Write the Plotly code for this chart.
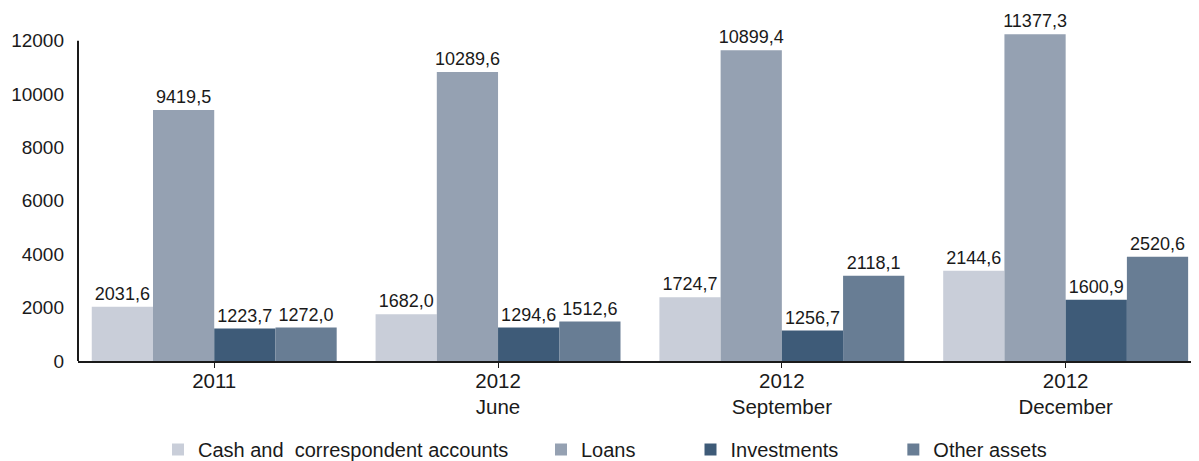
import plotly.graph_objects as go

# categories on the x axis (year / month)
periods = ["2011", "2012<br>June", "2012<br>September", "2012<br>December"]
# non-breaking spaces widen the gaps between legend entries as in the original
series = ["Cash and\u00a0 correspondent accounts" + "\u00a0" * 5,
          "Loans" + "\u00a0" * 9,
          "Investments" + "\u00a0" * 9,
          "Other assets"]

# bar heights as drawn in the picture
cash = [2037, 1750, 2386, 3383]
loans = [9402, 10822, 11645, 12243]
investments = [1215, 1252, 1140, 2299]
other = [1252, 1477, 3196, 3907]

# value labels printed above the bars
cash_lbl = ["2031,6", "1682,0", "1724,7", "2144,6"]
loans_lbl = ["9419,5", "10289,6", "10899,4", "11377,3"]
investments_lbl = ["1223,7", "1294,6", "1256,7", "1600,9"]
other_lbl = ["1272,0", "1512,6", "2118,1", "2520,6"]

colors = ["#c9ced9", "#95a1b2", "#3e5b78", "#687d94"]

fig = go.Figure()
for name, vals, lbls, col in zip(series, [cash, loans, investments, other],
                                 [cash_lbl, loans_lbl, investments_lbl, other_lbl], colors):
    fig.add_trace(go.Bar(x=list(range(len(periods))), y=vals, name=name, marker_color=col,
                         marker_line_width=0, text=lbls, textposition="outside",
                         textfont=dict(size=18, color="#1a1a1a"), constraintext="none",
                         cliponaxis=False, hoverinfo="name+text"))

# page body adds an 8px offset, margins compensate for it
fig.update_layout(
    width=1199, height=461, barmode="group", bargap=0.137, bargroupgap=0,
    plot_bgcolor="white", paper_bgcolor="white",
    font=dict(family="Liberation Sans, Arial, sans-serif", size=18, color="#1a1a1a"),
    margin=dict(l=70, r=0, t=22, b=108, autoexpand=False),
    legend=dict(orientation="h", xref="container", x=150 / 1199, xanchor="left",
                yref="container", y=-0.005, yanchor="bottom", font=dict(size=20),
                itemwidth=30, traceorder="normal"),
)
fig.update_xaxes(tickmode="array", tickvals=list(range(len(periods))), ticktext=periods,
                 range=[-0.48, 3.498], showline=True, linecolor="#1a1a1a", linewidth=2,
                 tickson="boundaries", ticks="outside", ticklen=5, tickcolor="#1a1a1a",
                 showgrid=False, zeroline=False, automargin=False, tickfont=dict(size=20.5),
                 ticklabelstandoff=-5)
fig.update_yaxes(range=[0, 12400], tickvals=[0, 2000, 4000, 6000, 8000, 10000, 12000],
                 tickformat="d", showline=False, showgrid=False, zeroline=False, ticks="",
                 ticklabelstandoff=13, automargin=False, tickfont=dict(size=19))
# y axis line stops at the 12000 tick
fig.add_shape(type="line", xref="paper", x0=0, x1=0, yref="y", y0=0, y1=12000,
              line=dict(color="#1a1a1a", width=2))

fig.write_html("out.html")
